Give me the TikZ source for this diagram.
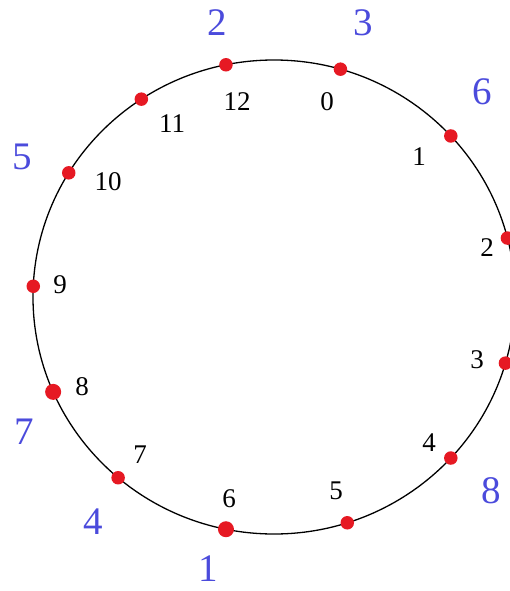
\documentclass[tikz,border=0pt]{standalone}
\usepackage{fontspec}
\setmainfont{Liberation Serif}
\definecolor{dotred}{RGB}{230,25,35}
\definecolor{lblblue}{RGB}{75,75,220}
\begin{document}
\begin{tikzpicture}[x=1pt,y=-1pt,
  dot/.style={circle,fill=dotred,inner sep=0pt,minimum size=13.5pt},
  bigdot/.style={dot,minimum size=16pt},
  num/.style={inner sep=0pt,font=\fontsize{27}{27}\selectfont,text=black},
  outer/.style={inner sep=0pt,font=\fontsize{39}{39}\selectfont,text=lblblue}]
\useasboundingbox (0,0) rectangle (509,591);
\coordinate (c) at (274,297);
\draw[line width=1.3pt] (c) ellipse [x radius=241pt, y radius=237pt];
% points on the circle
\node[dot] (p0) at ([shift={(-74.0:241 and 237)}]c) {};
\node[dot] (p1) at ([shift={(-42.8:241 and 237)}]c) {};
\node[dot] (p2) at ([shift={(-14.4:241 and 237)}]c) {};
\node[dot] (p3) at ([shift={(16.2:241 and 237)}]c) {};
\node[dot] (p4) at ([shift={(42.8:241 and 237)}]c) {};
\node[dot] (p5) at ([shift={(72.3:241 and 237)}]c) {};
\node[bigdot] (p6) at ([shift={(101.5:241 and 237)}]c) {};
\node[dot] (p7) at ([shift={(130.3:241 and 237)}]c) {};
\node[bigdot] (p8) at ([shift={(156.4:241 and 237)}]c) {};
\node[dot] (p9) at ([shift={(182.6:241 and 237)}]c) {};
\node[dot] (p10) at ([shift={(211.6:241 and 237)}]c) {};
\node[dot] (p11) at ([shift={(236.6:241 and 237)}]c) {};
\node[dot] (p12) at ([shift={(258.5:241 and 237)}]c) {};
% inner labels
\node[num] (l0) at (327,102) {0};
\node[num] (l1) at (419,157) {1};
\node[num] (l2) at (487,248) {2};
\node[num] (l3) at (477,360) {3};
\node[num] (l4) at (429,443) {4};
\node[num] (l5) at (336,491) {5};
\node[num] (l6) at (229,499) {6};
\node[num] (l7) at (140,455) {7};
\node[num] (l8) at (82,387) {8};
\node[num] (l9) at (60,285) {9};
\node[num] (l10) at (108,182) {10};
\node[num] (l11) at (172,124) {11};
\node[num] (l12) at (237,102) {12};
% outer labels
\node[outer] (o2) at (217,23) {2};
\node[outer] (o3) at (363,23) {3};
\node[outer] (o6) at (482,92) {6};
\node[outer] (o5) at (22,157) {5};
\node[outer] (o7) at (24,432) {7};
\node[outer] (o4) at (93,522) {4};
\node[outer] (o1) at (208,569) {1};
\node[outer] (o8) at (491,491) {8};
\end{tikzpicture}
\end{document}
